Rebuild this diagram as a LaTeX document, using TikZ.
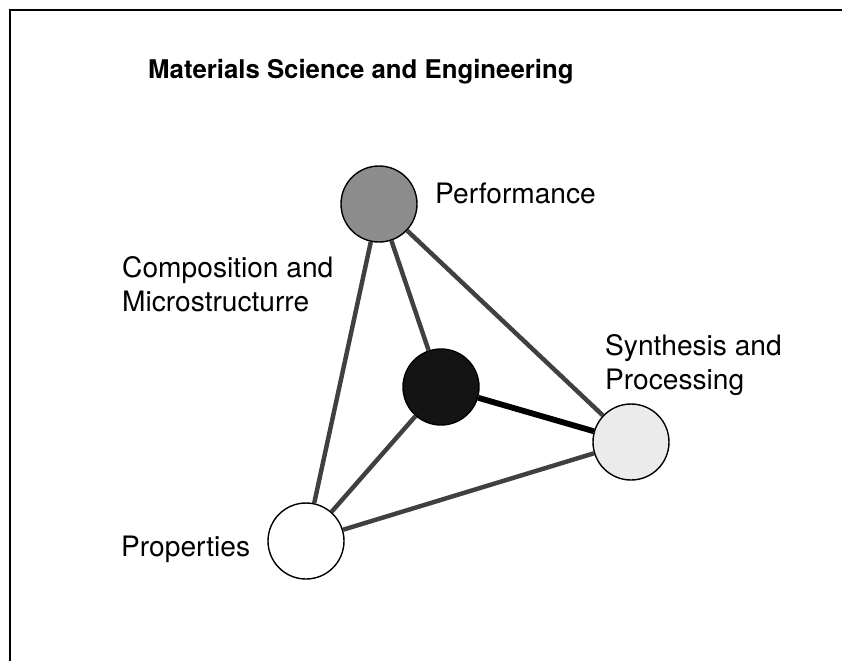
\documentclass[tikz,border=0pt]{standalone}
\usepackage{fontspec}
\setmainfont{TeX Gyre Heros}
\begin{document}
\begin{tikzpicture}[x=0.03cm,y=-0.03cm,
    every node/.style={font=\fontsize{24}{29}\selectfont},
    corner/.style={circle,draw=black,line width=1.2pt,minimum size=2.28cm,inner sep=0pt},
    edge/.style={line width=3.8pt,draw=black!75},
    txt/.style={align=left,inner sep=0pt}]
  \useasboundingbox (0,0) rectangle (842,661);

  % frame
  \draw[line width=1.5pt] (10,661) -- (10,10) -- (842,10);

  \node[txt,anchor=west,font=\fontsize{22}{27}\selectfont\bfseries] (title) at (148,72) {Materials Science and Engineering};

  % corners of the tetrahedron
  \node[corner,fill=black!45] (perf) at (379,204) {};
  \node[corner,fill=black!92] (micro) at (441,387) {};
  \node[corner,fill=black!8] (synth) at (631,442) {};
  \node[corner,fill=white] (prop) at (306,541) {};

  \draw[edge] (perf) -- (prop);
  \draw[edge] (perf) -- (micro);
  \draw[edge] (perf) -- (synth);
  \draw[edge] (micro) -- (prop);
  \draw[edge] (prop) -- (synth);
  \draw[edge,draw=black,line width=5pt] (micro) -- (synth);

  \node[txt,anchor=west] (perftext) at (435,193) {Performance};
  \node[txt,anchor=north west] (microtext) at (122,256) {Composition and\\Microstructurre};
  \node[txt,anchor=north west] (synthtext) at (605,334) {Synthesis and\\Processing};
  \node[txt,anchor=west] (proptext) at (121,549) {Properties};
\end{tikzpicture}
\end{document}
